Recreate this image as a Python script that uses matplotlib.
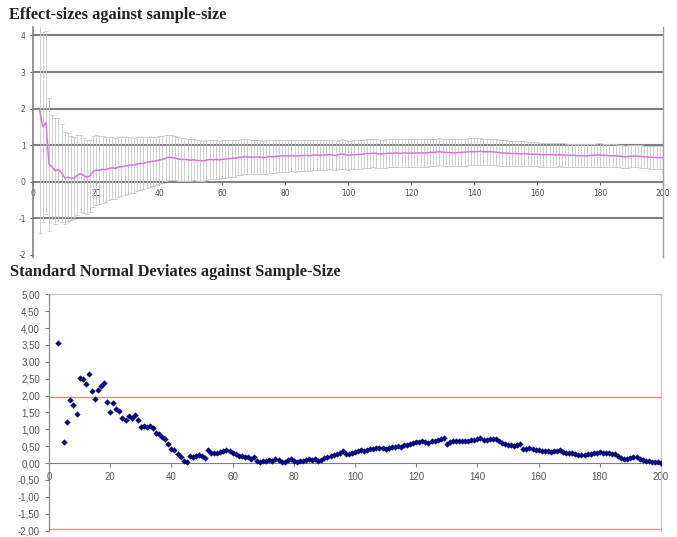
import numpy as np
import matplotlib
matplotlib.use('Agg')
import matplotlib.pyplot as plt
from matplotlib.ticker import FuncFormatter

plt.rcParams['axes.unicode_minus'] = False

# top chart: effect size (mean) and half width of the interval, n = 2..200
es_n = list(range(2, 201))
es_mean = [
    1.96, 1.50, 1.62, 0.48, 0.40, 0.30, 0.33, 0.24, 0.10,
    0.12, 0.10, 0.09, 0.18, 0.22, 0.17, 0.13, 0.16, 0.28, 0.32,
    0.31, 0.34, 0.33, 0.36, 0.38, 0.36, 0.40, 0.41, 0.42, 0.44,
    0.46, 0.45, 0.48, 0.50, 0.50, 0.53, 0.54, 0.56, 0.57, 0.59,
    0.61, 0.64, 0.67, 0.66, 0.65, 0.62, 0.61, 0.61, 0.60, 0.59,
    0.60, 0.58, 0.58, 0.57, 0.59, 0.61, 0.60, 0.61, 0.60, 0.61,
    0.62, 0.63, 0.64, 0.64, 0.66, 0.67, 0.68, 0.68, 0.67, 0.67,
    0.68, 0.67, 0.66, 0.67, 0.69, 0.68, 0.69, 0.70, 0.71, 0.71,
    0.70, 0.71, 0.70, 0.71, 0.71, 0.72, 0.72, 0.71, 0.73, 0.73,
    0.72, 0.73, 0.73, 0.74, 0.73, 0.72, 0.74, 0.76, 0.74, 0.72,
    0.73, 0.74, 0.74, 0.75, 0.76, 0.77, 0.77, 0.78, 0.77, 0.76,
    0.76, 0.77, 0.78, 0.78, 0.79, 0.78, 0.78, 0.79, 0.78, 0.78,
    0.78, 0.79, 0.79, 0.79, 0.79, 0.80, 0.80, 0.81, 0.82, 0.81,
    0.80, 0.80, 0.79, 0.79, 0.80, 0.80, 0.81, 0.82, 0.82, 0.82,
    0.82, 0.83, 0.82, 0.82, 0.82, 0.82, 0.81, 0.79, 0.79, 0.78,
    0.78, 0.77, 0.77, 0.77, 0.76, 0.77, 0.76, 0.75, 0.75, 0.75,
    0.74, 0.74, 0.74, 0.74, 0.74, 0.73, 0.74, 0.73, 0.73, 0.72,
    0.72, 0.72, 0.71, 0.71, 0.71, 0.71, 0.72, 0.72, 0.73, 0.73,
    0.72, 0.72, 0.71, 0.71, 0.71, 0.70, 0.69, 0.68, 0.69, 0.70,
    0.70, 0.70, 0.69, 0.68, 0.68, 0.67, 0.67, 0.66, 0.66, 0.66,
]
es_half = [
    3.36, 2.60, 2.50, 1.82, 1.42, 1.45, 1.40, 1.34, 1.25,
    1.20, 1.15, 1.12, 1.09, 1.06, 1.03, 1.01, 0.99, 0.97, 0.95,
    0.93, 0.91, 0.89, 0.87, 0.85, 0.83, 0.82, 0.80, 0.79, 0.77,
    0.76, 0.75, 0.73, 0.72, 0.71, 0.70, 0.68, 0.67, 0.66, 0.65,
    0.64, 0.63, 0.62, 0.61, 0.60, 0.60, 0.59, 0.58, 0.58, 0.57,
    0.56, 0.56, 0.55, 0.55, 0.54, 0.54, 0.53, 0.53, 0.52, 0.52,
    0.51, 0.51, 0.50, 0.50, 0.49, 0.49, 0.48, 0.48, 0.47, 0.47,
    0.47, 0.46, 0.46, 0.46, 0.45, 0.45, 0.45, 0.44, 0.44, 0.44,
    0.43, 0.43, 0.43, 0.43, 0.42, 0.42, 0.42, 0.42, 0.41, 0.41,
    0.41, 0.41, 0.41, 0.40, 0.40, 0.40, 0.40, 0.40, 0.40, 0.40,
    0.39, 0.39, 0.39, 0.39, 0.39, 0.39, 0.39, 0.39, 0.39, 0.39,
    0.39, 0.39, 0.38, 0.38, 0.38, 0.38, 0.38, 0.38, 0.38, 0.38,
    0.38, 0.38, 0.38, 0.38, 0.38, 0.38, 0.38, 0.37, 0.37, 0.37,
    0.37, 0.37, 0.37, 0.37, 0.37, 0.37, 0.37, 0.37, 0.37, 0.37,
    0.37, 0.37, 0.36, 0.36, 0.36, 0.36, 0.35, 0.35, 0.35, 0.35,
    0.34, 0.34, 0.34, 0.34, 0.34, 0.34, 0.33, 0.33, 0.33, 0.33,
    0.33, 0.33, 0.33, 0.33, 0.33, 0.33, 0.32, 0.32, 0.32, 0.32,
    0.32, 0.32, 0.32, 0.32, 0.32, 0.32, 0.32, 0.32, 0.32, 0.32,
    0.32, 0.32, 0.32, 0.32, 0.31, 0.31, 0.31, 0.31, 0.31, 0.31,
    0.31, 0.31, 0.31, 0.31, 0.31, 0.31, 0.31, 0.31, 0.31, 0.31,
]

# bottom chart: standard normal deviates (n = 4 has no point)
z_n = [3] + list(range(5, 201))
z_val = [
    3.57,
    0.63, 1.22, 1.86, 1.73, 1.44, 2.52, 2.50, 2.33, 2.64, 2.14,
    1.91, 2.17, 2.27, 2.37, 1.80, 1.50, 1.78, 1.59, 1.55, 1.32,
    1.27, 1.38, 1.34, 1.41, 1.27, 1.07, 1.11, 1.08, 1.11, 1.05,
    0.90, 0.86, 0.78, 0.71, 0.56, 0.43, 0.39, 0.28, 0.17, 0.07,
    0.03, 0.22, 0.19, 0.20, 0.23, 0.20, 0.14, 0.39, 0.31, 0.31,
    0.31, 0.33, 0.36, 0.39, 0.36, 0.30, 0.26, 0.22, 0.20, 0.19,
    0.17, 0.13, 0.17, 0.06, 0.02, 0.05, 0.07, 0.08, 0.06, 0.11,
    0.09, 0.02, 0.04, 0.08, 0.11, 0.07, 0.04, 0.05, 0.07, 0.09,
    0.12, 0.10, 0.13, 0.07, 0.09, 0.14, 0.17, 0.20, 0.24, 0.27,
    0.31, 0.37, 0.28, 0.27, 0.31, 0.33, 0.35, 0.38, 0.37, 0.40,
    0.42, 0.41, 0.44, 0.46, 0.45, 0.43, 0.46, 0.48, 0.47, 0.50,
    0.49, 0.52, 0.54, 0.55, 0.58, 0.61, 0.63, 0.65, 0.62, 0.60,
    0.64, 0.66, 0.67, 0.70, 0.73, 0.57, 0.62, 0.64, 0.65, 0.65,
    0.66, 0.65, 0.66, 0.68, 0.69, 0.71, 0.73, 0.69, 0.67, 0.70,
    0.72, 0.71, 0.66, 0.60, 0.57, 0.53, 0.52, 0.50, 0.53, 0.55,
    0.43, 0.41, 0.46, 0.43, 0.39, 0.38, 0.37, 0.36, 0.35, 0.34,
    0.35, 0.37, 0.38, 0.33, 0.29, 0.30, 0.31, 0.28, 0.24, 0.25,
    0.25, 0.26, 0.27, 0.29, 0.31, 0.34, 0.31, 0.30, 0.29, 0.28,
    0.26, 0.21, 0.14, 0.12, 0.13, 0.15, 0.17, 0.18, 0.13, 0.09,
    0.07, 0.05, 0.04, 0.03, 0.02, 0.00,
]
z_crit = 1.96

fig = plt.figure(figsize=(6.77, 5.37), dpi=100)
fig.patch.set_facecolor('white')

title_font = dict(family='Liberation Serif', weight='bold', color='#222222')
fig.text(0.013, 0.972, 'Effect-sizes against sample-size', va='center',
         fontsize=11.8, **title_font)
fig.text(0.015, 0.493, 'Standard Normal Deviates against Sample-Size', va='center',
         fontsize=11.8, **title_font)

# ---- top chart
ax1 = fig.add_axes([0.0492, 0.522, 0.930, 0.427])
ax1.set_xlim(0, 200)
ax1.set_ylim(-2.05, 4.22)
for lev in [-1, 1, 2, 3, 4]:
    ax1.axhline(lev, color='#808080', lw=1.5, zorder=1)
ax1.errorbar(es_n, es_mean, yerr=es_half, fmt='none', ecolor='#c8c8c8',
             elinewidth=0.6, capsize=1.2, capthick=0.6, zorder=2)
ax1.plot(es_n, es_mean, color='#e070e0', lw=1.1, zorder=3)

ax1.spines['top'].set_visible(False)
ax1.spines['left'].set_color('#808080')
ax1.spines['left'].set_linewidth(1.2)
ax1.spines['right'].set_color('#a0a0a0')
ax1.spines['right'].set_linewidth(1.0)
ax1.spines['bottom'].set_position(('data', 0))
ax1.spines['bottom'].set_color('#808080')
ax1.spines['bottom'].set_linewidth(1.5)
ax1.spines['bottom'].set_zorder(1)
ax1.set_xticks(range(0, 201, 20))
ax1.set_yticks(range(-2, 5))
ax1.tick_params(axis='both', labelsize=5.5, colors='#606060', length=2, width=0.8,
                labelcolor='#505050')
ax1.tick_params(axis='x', pad=3)

# ---- bottom chart
ax2 = fig.add_axes([0.0724, 0.012, 0.904, 0.440])
ax2.set_xlim(0, 200)
ax2.set_ylim(-2.0, 5.0)
ax2.axhline(z_crit, color='#ff8080', lw=1.0, zorder=1)
ax2.axhline(-z_crit, color='#ff8080', lw=1.0, zorder=1)
ax2.plot(z_n, z_val, linestyle='none', marker='D', markersize=3.2,
         color='#000080', markeredgewidth=0, zorder=3)

ax2.spines['top'].set_color('#c0c0c0')
ax2.spines['right'].set_color('#c0c0c0')
ax2.spines['left'].set_color('#808080')
ax2.spines['bottom'].set_position(('data', 0))
ax2.spines['bottom'].set_color('#808080')
ax2.set_xticks(range(0, 201, 20))
ax2.set_yticks(np.arange(-2.0, 5.01, 0.5))
ax2.yaxis.set_major_formatter(FuncFormatter(lambda v, p: ('%.2f' % v).replace('.', ',')))
ax2.tick_params(axis='both', labelsize=7, colors='#808080', length=3, width=0.8,
                labelcolor='#555555')
for lab in ax2.get_xticklabels() + ax2.get_yticklabels():
    lab.set_family('Liberation Sans')

plt.savefig('out.png', dpi=100)
